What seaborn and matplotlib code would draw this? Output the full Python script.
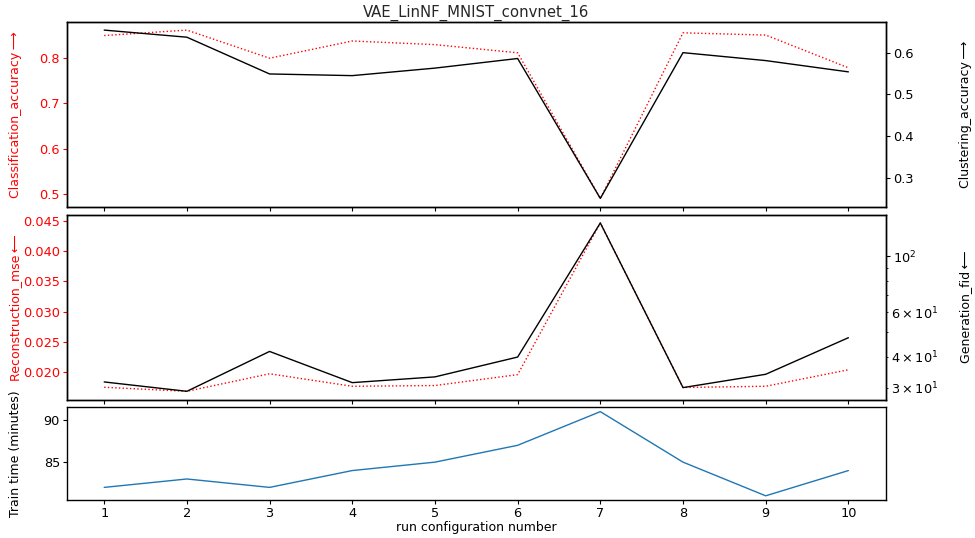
import numpy as np
import pandas as pd
import matplotlib
matplotlib.use("Agg")
import matplotlib.pyplot as plt
import seaborn as sns

# ---- data ----
runs = [1, 2, 3, 4, 5, 6, 7, 8, 9, 10]
classification_accuracy = [0.849, 0.861, 0.799, 0.837, 0.829, 0.811, 0.490, 0.855, 0.850, 0.778]
clustering_accuracy = [0.654, 0.637, 0.549, 0.545, 0.563, 0.586, 0.251, 0.600, 0.581, 0.554]
reconstruction_mse = [0.01752, 0.01685, 0.01974, 0.01768, 0.01780, 0.01960, 0.04460, 0.01748, 0.01768, 0.02040]
generation_fid = [31.7, 29.1, 41.9, 31.5, 33.2, 39.8, 135.6, 30.1, 34.0, 47.5]
train_time = [82, 83, 82, 84, 85, 87, 91, 85, 81, 84]
title = "VAE_LinNF_MNIST_convnet_16"

df = pd.DataFrame({
    "run": runs,
    "cls": classification_accuracy,
    "clu": clustering_accuracy,
    "mse": reconstruction_mse,
    "fid": generation_fid,
    "time": train_time,
})

sns.set_style("ticks")
plt.rcParams["font.family"] = ["DejaVu Sans"]
plt.rcParams["axes.edgecolor"] = "black"
plt.rcParams["xtick.color"] = "black"
plt.rcParams["ytick.color"] = "black"
plt.rcParams["axes.labelcolor"] = "black"

FS_TICK = 9.3
FS_LAB = 9.0
fig = plt.figure(figsize=(9.75, 5.38), dpi=100)
gs = fig.add_gridspec(3, 1, height_ratios=[2, 2, 1], left=0.0687, right=0.9083,
                      top=0.9597, bottom=0.0706, hspace=0.05)
ax1 = fig.add_subplot(gs[0])
ax2 = fig.add_subplot(gs[1], sharex=ax1)
ax3 = fig.add_subplot(gs[2], sharex=ax1)

lw = 1.0
# Top panel
sns.lineplot(data=df, x="run", y="cls", ax=ax1, color="red", linestyle=":", linewidth=lw)
ax1r = ax1.twinx()
sns.lineplot(data=df, x="run", y="clu", ax=ax1r, color="black", linewidth=lw)

# Middle panel
sns.lineplot(data=df, x="run", y="mse", ax=ax2, color="red", linestyle=":", linewidth=lw)
ax2r = ax2.twinx()
ax2r.set_yscale("log")
sns.lineplot(data=df, x="run", y="fid", ax=ax2r, color="black", linewidth=lw)

# Bottom panel
sns.lineplot(data=df, x="run", y="time", ax=ax3, color="#1f77b4", linewidth=lw)

for a in (ax1, ax1r, ax2, ax2r, ax3):
    for s in a.spines.values():
        s.set_visible(True)
        s.set_color("black")
        s.set_linewidth(1.0)
    a.tick_params(which="major", labelsize=FS_TICK, width=0.8, length=2.6, pad=2.5)
    a.set_xlabel("")

ax1.tick_params(axis="y", colors="red")
ax2.tick_params(axis="y", colors="red")
ax1.tick_params(axis="x", labelbottom=False)
ax2.tick_params(axis="x", labelbottom=False)
ax2r.tick_params(axis="y", which="minor", labelsize=FS_TICK, width=0.6, length=1.6, pad=2.5)

ax3.set_xticks(runs)
ax3.set_xlabel("run configuration number", fontsize=FS_LAB, labelpad=0.5)

ts = "\u2009"
ax1.set_ylabel("Classification_accuracy" + ts + "⟶", color="red", fontsize=FS_LAB)
ax2.set_ylabel("Reconstruction_mse" + ts + "⟵", color="red", fontsize=FS_LAB)
ax3.set_ylabel("Train time (minutes)", fontsize=FS_LAB)
ax1r.set_ylabel("Clustering_accuracy" + ts + "⟶", color="black", fontsize=FS_LAB)
ax2r.set_ylabel("Generation_fid" + ts + "⟵", color="black", fontsize=FS_LAB)

for a in (ax1, ax2, ax3):
    a.yaxis.set_label_coords(-0.055, 0.5)
for a in (ax1r, ax2r):
    a.yaxis.set_label_coords(1.09, 0.5)

ax1.set_title(title, fontsize=10.7, pad=3.5)

fig.savefig("out.png", dpi=100)
